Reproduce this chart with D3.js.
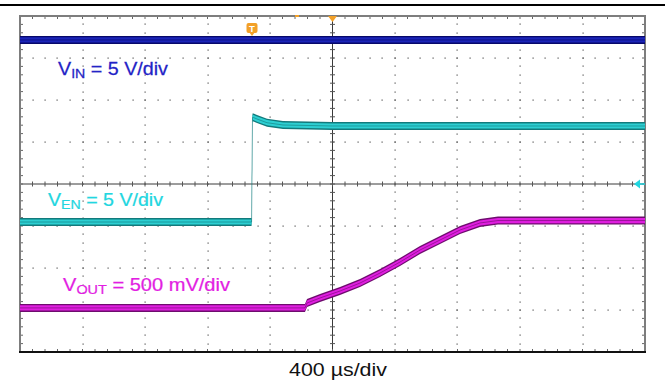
<!DOCTYPE html>
<html>
<head>
<meta charset="utf-8">
<script src="https://cdn.jsdelivr.net/npm/d3@7"></script>
<style>
  html, body { margin: 0; padding: 0; background: #fff; }
  svg { display: block; font-family: "Liberation Sans", Arial, sans-serif; }
</style>
</head>
<body>
<svg id="chart" width="665" height="388"></svg>
<script>
// ---- data (time in µs, voltage in V) ----
const vinTime  = [-2000, 2000];
const vinVolts = [12, 12];

const venTime  = [-2000, -518, -512, -506, -483, -419, -317, 0, 2000];
const venVolts = [0, 0, 12.44, 12.44, 12.26, 11.82, 11.55, 11.43, 11.43];

const voutTime  = [-2000, -176, -163, -80, 48, 176, 304, 432, 560, 688, 816, 944, 1059, 2000];
const voutVolts = [0, 0, 0.058, 0.118, 0.201, 0.296, 0.415, 0.546, 0.689, 0.808, 0.927, 1.011, 1.04, 1.04];

const channelNames = ["IN", "EN", "OUT"];
const channelScales = ["5 V/div", "5 V/div", "500 mV/div"];
const timeBaseLabel = "400 µs/div";

// ---- layout ----
const svg = d3.select("#chart");
const L = 20, R = 645, T = 16, B = 352;
const x = d3.scaleLinear().domain([-2000, 2000]).range([L, R]);
const yDiv = d3.scaleLinear().domain([-4, 4]).range([B, T]);

const channels = [
  { time: vinTime,  volts: vinVolts,  vpd: 5,   offset: 1.03,  outer: "#07086a", inner: "#1b24b8", text: "#2323c6" },
  { time: venTime,  volts: venVolts,  vpd: 5,   offset: -0.905, outer: "#127a7c", inner: "#2ccfd2", text: "#22d6e0" },
  { time: voutTime, volts: voutVolts, vpd: 0.5, offset: -2.95, outer: "#6e0c6e", inner: "#e01ee0", text: "#e21ee2" }
];

// top rule
svg.append("line").attr("x1", 0).attr("x2", 665).attr("y1", 5).attr("y2", 5)
  .attr("stroke", "#000").attr("stroke-width", 2);

const g = svg.append("g");

// dotted grid along major lines
const minorX = d3.range(0, 51).map(i => -2000 + i * 80);
const minorY = d3.range(0, 41).map(i => -4 + i * 0.2);
const majorX = d3.range(-2000, 2001, 400).filter(v => v !== 0 && v !== -2000 && v !== 2000);
const majorY = d3.range(-4, 4.01, 1).filter(v => v !== 0 && v !== -4 && v !== 4);

majorY.forEach(dv => {
  g.selectAll(null).data(minorX).enter().append("rect")
    .attr("x", d => Math.round(x(d)) - 0.5).attr("y", Math.round(yDiv(dv)) - 0.5)
    .attr("width", 1.2).attr("height", 1.2).attr("fill", "#555");
});
majorX.forEach(t => {
  g.selectAll(null).data(minorY).enter().append("rect")
    .attr("x", Math.round(x(t)) - 0.5).attr("y", d => Math.round(yDiv(d)) - 0.5)
    .attr("width", 1.2).attr("height", 1.2).attr("fill", "#555");
});

// center cross with ticks
g.append("line").attr("x1", L).attr("x2", R).attr("y1", yDiv(0)).attr("y2", yDiv(0))
  .attr("stroke", "#3a3a3a").attr("stroke-width", 1);
g.append("line").attr("x1", x(0)).attr("x2", x(0)).attr("y1", T).attr("y2", B)
  .attr("stroke", "#3a3a3a").attr("stroke-width", 1);
g.selectAll(null).data(minorX).enter().append("line")
  .attr("x1", d => x(d)).attr("x2", d => x(d))
  .attr("y1", yDiv(0) - 2.5).attr("y2", yDiv(0) + 2.5)
  .attr("stroke", "#555").attr("stroke-width", 1);
g.selectAll(null).data(minorY).enter().append("line")
  .attr("y1", d => yDiv(d)).attr("y2", d => yDiv(d))
  .attr("x1", x(0) - 2.5).attr("x2", x(0) + 2.5)
  .attr("stroke", "#555").attr("stroke-width", 1);

// edge ticks
g.selectAll(null).data(minorX).enter().append("line")
  .attr("x1", d => x(d)).attr("x2", d => x(d)).attr("y1", T).attr("y2", T + 3)
  .attr("stroke", "#666").attr("stroke-width", 1);
g.selectAll(null).data(minorX).enter().append("line")
  .attr("x1", d => x(d)).attr("x2", d => x(d)).attr("y1", B - 3).attr("y2", B)
  .attr("stroke", "#666").attr("stroke-width", 1);
g.selectAll(null).data(minorY).enter().append("line")
  .attr("y1", d => yDiv(d)).attr("y2", d => yDiv(d)).attr("x1", L).attr("x2", L + 3)
  .attr("stroke", "#666").attr("stroke-width", 1);
g.selectAll(null).data(minorY).enter().append("line")
  .attr("y1", d => yDiv(d)).attr("y2", d => yDiv(d)).attr("x1", R - 3).attr("x2", R)
  .attr("stroke", "#666").attr("stroke-width", 1);

// frame
g.append("rect").attr("x", L).attr("y", T).attr("width", R - L).attr("height", B - T)
  .attr("fill", "none").attr("stroke", "#7d7d7d").attr("stroke-width", 2);
g.append("line").attr("x1", L - 1).attr("x2", R + 1).attr("y1", B).attr("y2", B)
  .attr("stroke", "#111").attr("stroke-width", 2);

// traces
channels.forEach(ch => {
  const pts = ch.time.map((t, i) => ({ t, v: ch.volts[i] }));
  const yy = d => yDiv(d.v / ch.vpd + ch.offset);
  const band = hw => d3.area().x(d => x(d.t)).y0(d => yy(d) - hw).y1(d => yy(d) + hw);
  g.append("path").datum(pts).attr("d", band(4)).attr("fill", ch.outer);
  g.append("path").datum(pts).attr("d", band(2.6)).attr("fill", ch.inner);
  g.append("path").datum(pts)
    .attr("d", d3.line().x(d => x(d.t)).y(yy))
    .attr("fill", "none").attr("stroke", ch.outer).attr("stroke-width", 1)
    .attr("stroke-opacity", 0.6);
});

// markers
const orange = "#f2a028";
g.append("path")
  .attr("d", `M${x(0) - 4.5},${T} L${x(0) + 4.5},${T} L${x(0)},${T + 6} Z`)
  .attr("fill", orange);
g.append("rect").attr("x", 295).attr("y", T - 1).attr("width", 4).attr("height", 2).attr("fill", orange);
const tx = 252, ty = 23;
g.append("rect").attr("x", tx - 5.5).attr("y", ty).attr("width", 11).attr("height", 10)
  .attr("rx", 2).attr("fill", orange);
g.append("path").attr("d", `M${tx - 3},${ty + 9} L${tx + 3},${ty + 9} L${tx},${ty + 13} Z`).attr("fill", orange);
g.append("text").attr("x", tx).attr("y", ty + 8.5).attr("text-anchor", "middle")
  .attr("font-size", 9.5).attr("font-weight", "bold").attr("fill", "#fff").text("T");
// cyan ground marker
g.append("path")
  .attr("d", `M${R - 11},${yDiv(0)} L${R - 5},${yDiv(0) - 4.5} L${R - 5},${yDiv(0) + 4.5} Z`)
  .attr("fill", "#22d6e0");
g.append("line").attr("x1", R - 6).attr("x2", R).attr("y1", yDiv(0)).attr("y2", yDiv(0))
  .attr("stroke", "#22d6e0").attr("stroke-width", 1.5);

// labels
function label(xs, ys, targetW, color, name, scale, size) {
  const grp = svg.append("g");
  const t = grp.append("text").attr("x", 0).attr("y", 0).attr("fill", color)
    .attr("font-size", size).attr("stroke", color).attr("stroke-width", 0.25);
  t.append("tspan").text("V");
  t.append("tspan").attr("font-size", size * 0.72).attr("dy", 3).text(name);
  t.append("tspan").attr("dy", -3).text(" = " + scale);
  const w = t.node().getComputedTextLength();
  grp.attr("transform", `translate(${xs},${ys}) scale(${targetW / w},1)`);
}
label(58, 74.5, 110, channels[0].text, channelNames[0], channelScales[0], 18);
label(48, 205.5, 115, channels[1].text, channelNames[1], channelScales[1], 18);
label(63, 290.5, 167, channels[2].text, channelNames[2], channelScales[2], 18);

const bg = svg.append("g");
const bt = bg.append("text").attr("fill", "#111").attr("font-size", 18).text(timeBaseLabel);
const bw = bt.node().getComputedTextLength();
bg.attr("transform", `translate(289,375.5) scale(${98 / bw},1)`);
</script>
</body>
</html>
